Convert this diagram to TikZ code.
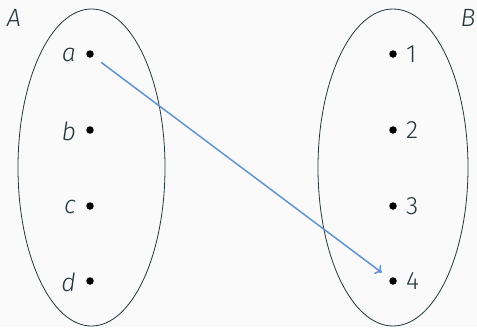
\documentclass[tikz,border=0pt]{standalone}
\usepackage{fontspec}
\setmainfont{Fira Sans}[UprightFont={* Light},ItalicFont={* Light Italic}]
\usetikzlibrary{shapes.geometric,arrows.meta}
\definecolor{fg}{HTML}{23373B}
\definecolor{bg}{HTML}{FAFAFA}
\definecolor{arr}{RGB}{98,147,207}
\tikzset{
  setshape/.style={draw=fg,ellipse,line width=0.8pt,inner sep=0pt,outer sep=0pt},
  pt/.style={circle,fill=black,inner sep=0pt,minimum size=7.5pt},
  lbl/.style={text=fg,font=\fontsize{25}{29}\selectfont},
  maparrow/.style={draw=arr,line width=1.5pt,-{To[length=6pt,width=11pt]},shorten <=10pt,shorten >=10pt}
}
\begin{document}
\begin{tikzpicture}[x=1pt,y=-1pt]
\fill[bg] (0,0) rectangle (477,327);
\useasboundingbox (0,0) rectangle (477,327);
\node[setshape,minimum width=147pt,minimum height=317pt] (SA) at (91.5,167.5) {};
\node[setshape,minimum width=150pt,minimum height=317pt] (SB) at (393,167.5) {};
\node[lbl] (LA) at (14,18) {\itshape A};
\node[lbl] (LB) at (468,18) {\itshape B};
\foreach \n/\y in {a/54,b/130,c/206,d/281}{
  \node[pt] (\n) at (90,\y) {};
  \node[lbl,anchor=east,inner sep=0pt] (l\n) at ([xshift=-14pt,yshift=-1pt]\n.center) {\itshape\n};
}
\foreach \n/\y in {1/54,2/130,3/206,4/281}{
  \node[pt] (r\n) at (393,\y) {};
  \node[lbl,anchor=west,inner sep=0pt] (lr\n) at ([xshift=13pt]r\n.center) {\n};
}
\draw[maparrow] (a) -- (r4);
\end{tikzpicture}
\end{document}
